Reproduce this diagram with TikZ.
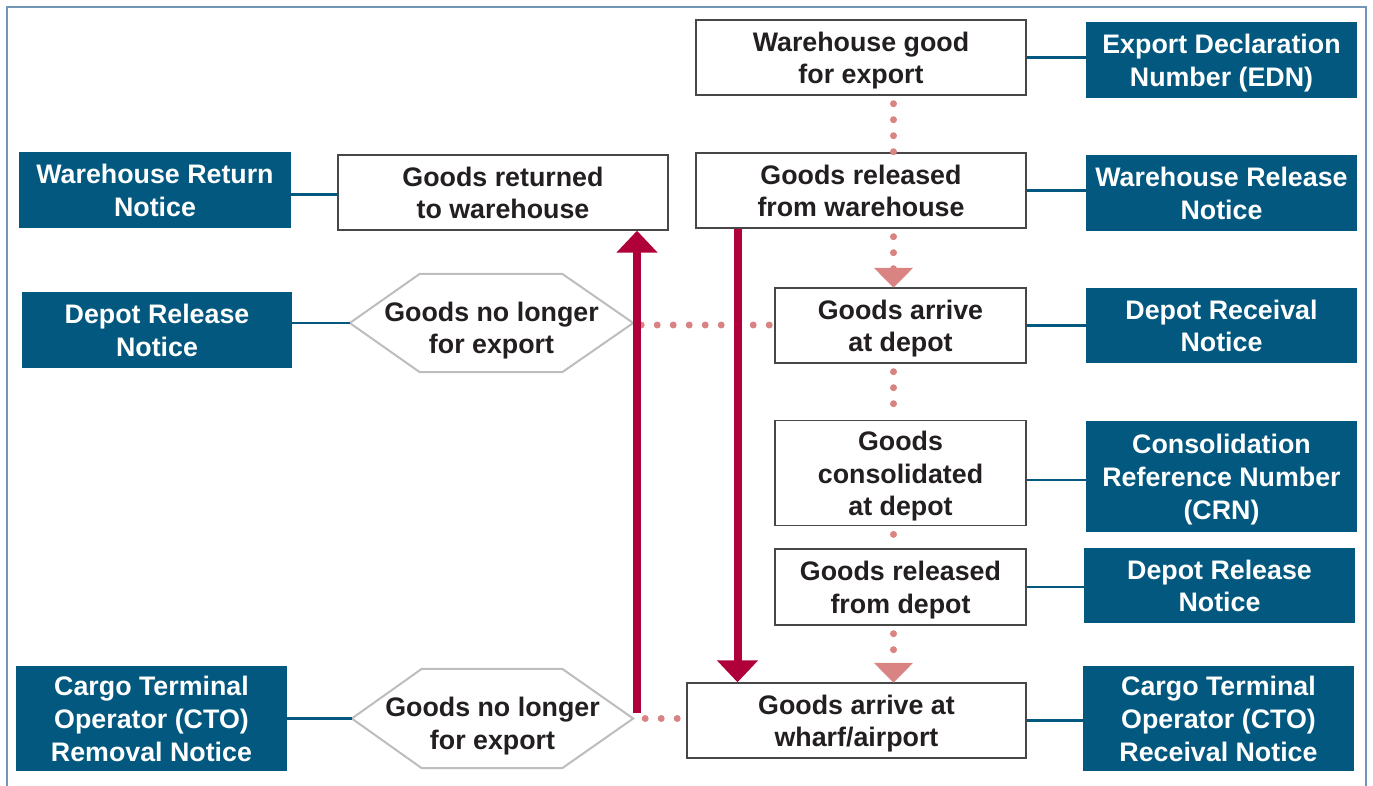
\documentclass[tikz,border=0pt]{standalone}
\usepackage{fontspec}
\setmainfont{Liberation Sans}
\usetikzlibrary{arrows.meta}
\definecolor{navy}{HTML}{02587F}
\definecolor{dotpink}{HTML}{D98482}
\definecolor{crimson}{HTML}{B0003A}
\definecolor{framec}{HTML}{7496B6}
\definecolor{hexgray}{HTML}{BDBDBD}
\definecolor{txt}{HTML}{231F20}
% multi-line text, pushed down by half of the optional amount
\newcommand\tlines[2][7pt]{\raisebox{0pt}[\dimexpr\height+#1\relax][\depth]{\begin{tabular}{@{}c@{}}#2\end{tabular}}}
\tikzset{
  lbl/.style={font=\fontsize{26.8}{32.8}\selectfont\bfseries, inner sep=0pt},
  bluebox/.style={lbl, fill=navy, text=white},
  whitebox/.style={lbl, draw=black!72, line width=1.4pt, fill=white, text=txt},
  hexnode/.style={lbl, text=txt},
  hexline/.style={draw=hexgray, line width=2pt},
  link/.style={draw=navy, line width=2.5pt},
  dots/.style={draw=dotpink, line width=7pt, line cap=round, dash pattern=on 0pt off 16pt},
  dotarrow/.style={dots, -{Triangle[width=38pt,length=20pt]}, shorten >=-0.5pt},
  redarr/.style={draw=crimson, line width=8pt, -{Triangle[width=40pt,length=22pt]}}
}
\begin{document}
\begin{tikzpicture}[x=1pt,y=-1pt]
\useasboundingbox (0,0) rectangle (1373,785);
% frame
\draw[framec, line width=2pt] (7,800) -- (7,7) -- (1366,7) -- (1366,800);

% white boxes (right column)
\node[whitebox, minimum width=330, minimum height=75] (w1) at (861,57.5) {\tlines{Warehouse good\\for export}};
\node[whitebox, minimum width=330, minimum height=75] (w2) at (861,190.5) {\tlines{Goods released\\from warehouse}};
\node[whitebox, minimum width=251, minimum height=75] (dep) at (900.5,325.5) {\tlines{Goods arrive\\at depot}};
\node[whitebox, minimum width=251, minimum height=102] (con) at (900.5,473) {\tlines{Goods\\consolidated\\at depot}};
\node[whitebox, minimum width=251, minimum height=76] (rel) at (900.5,587) {\tlines{Goods released\\from depot}};
\node[whitebox, minimum width=339, minimum height=75] (wh) at (856.5,720.5) {\tlines{Goods arrive at\\wharf/airport}};
\node[whitebox, minimum width=330, minimum height=75] (ret) at (503,192.5) {\tlines{Goods returned\\to warehouse}};

% hexagons
\node[hexnode, minimum width=283, minimum height=98] (h1) at (491.5,323) {\tlines[16pt]{Goods no longer\\for export}};
\node[hexnode, minimum width=281, minimum height=99] (h2) at (492.5,718.5) {\tlines[16pt]{Goods no longer\\for export}};
\foreach \h in {h1,h2}{
  \draw[hexline] (\h.west) -- ([xshift=70]\h.north west) -- ([xshift=-71]\h.north east) -- (\h.east)
    -- ([xshift=-71]\h.south east) -- ([xshift=70]\h.south west) -- cycle;
}

% blue boxes
\node[bluebox, minimum width=271, minimum height=76] (edn) at (1221.5,60) {\tlines{Export Declaration\\Number (EDN)}};
\node[bluebox, minimum width=271, minimum height=76] (wrel) at (1221.5,193) {\tlines{Warehouse Release\\Notice}};
\node[bluebox, minimum width=271, minimum height=75] (drec) at (1221.5,325.5) {\tlines{Depot Receival\\Notice}};
\node[bluebox, minimum width=271, minimum height=111] (crn) at (1221.5,476.5) {\tlines{Consolidation\\Reference Number\\(CRN)}};
\node[bluebox, minimum width=271, minimum height=75] (drelr) at (1219.5,585.5) {\tlines{Depot Release\\Notice}};
\node[bluebox, minimum width=271, minimum height=105] (ctor) at (1218.5,718.5) {\tlines{Cargo Terminal\\Operator (CTO)\\Receival Notice}};
\node[bluebox, minimum width=272, minimum height=76] (wret) at (155,190) {\tlines{Warehouse Return\\Notice}};
\node[bluebox, minimum width=270, minimum height=76] (drell) at (157,330) {\tlines{Depot Release\\Notice}};
\node[bluebox, minimum width=271, minimum height=105] (ctorm) at (151.5,718.5) {\tlines{Cargo Terminal\\Operator (CTO)\\Removal Notice}};

% blue links
\draw[link] (w1.east) -- (w1.east -| edn.west);
\draw[link] (w2.east) -- (w2.east -| wrel.west);
\draw[link] (dep.east) -- (dep.east -| drec.west);
\draw[link] ([yshift=-7]con.east) -- ([yshift=-7]con.east -| crn.west);
\draw[link] (rel.east) -- (rel.east -| drelr.west);
\draw[link] (wh.east) -- (wh.east -| ctor.west);
\draw[link] ([yshift=-2]ret.west) -- ([yshift=-2]ret.west -| wret.east);
\draw[link] (h1.west) -- (h1.west -| drell.east);
\draw[link] (h2.west) -- (h2.west -| ctorm.east);

% dotted flow
\coordinate (col) at (893.5,0);
\draw[dots] ([yshift=-8]w1.south -| col) -- (w2.north -| col);
\draw[dotarrow] ([yshift=-8]w2.south -| col) -- (dep.north -| col);
\draw[dots] ([yshift=-8]dep.south -| col) -- (con.north -| col);
\draw[dots] ([yshift=-8]con.south -| col) -- (rel.north -| col);
\draw[dotarrow] ([yshift=-8]rel.south -| col) -- (wh.north -| col);
\draw[dots] ([xshift=8,yshift=-2]h1.east) -- ([yshift=-2]h1.east -| dep.west);
\draw[dots] ([xshift=12]h2.east) -- (h2.east -| wh.west);

% red arrows
\coordinate (upx) at (637,0);
\coordinate (dnx) at (737.5,0);
\draw[redarr] ([yshift=6]h2.east -| upx) -- (ret.south -| upx);
\draw[redarr] (w2.south -| dnx) -- (wh.north -| dnx);
\end{tikzpicture}
\end{document}
